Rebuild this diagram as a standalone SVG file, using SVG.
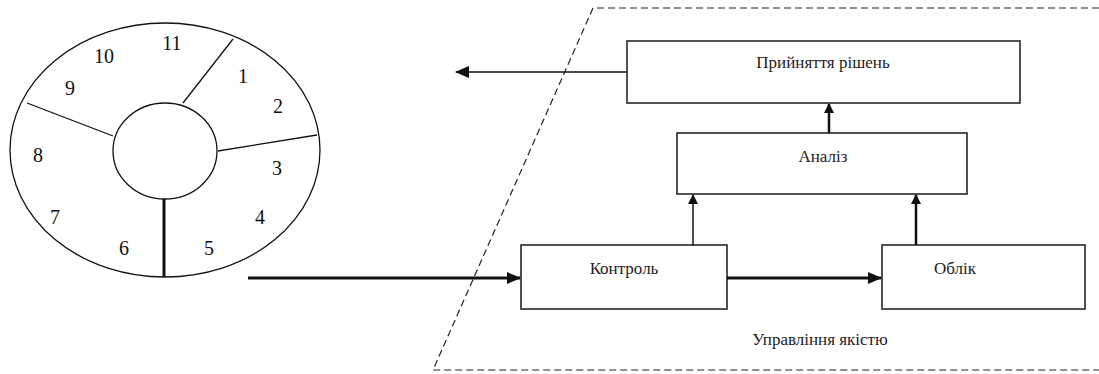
<svg xmlns="http://www.w3.org/2000/svg" width="1099" height="374" viewBox="0 0 1099 374">
<defs>
<style>
.ln{stroke:#111;fill:none;stroke-width:1.3}
.box{stroke:#333;fill:#fff;stroke-width:1.7}
.num{font-family:"Liberation Serif",serif;font-size:20px;fill:#111;text-anchor:middle}
.lbl{font-family:"Liberation Serif",serif;font-size:17px;fill:#222;text-anchor:middle}
.dash{stroke:#222;fill:none;stroke-width:1.2;stroke-dasharray:7 4}
</style>
<marker id="ah" markerWidth="10" markerHeight="10" refX="9" refY="5" orient="auto" markerUnits="userSpaceOnUse" viewBox="0 0 10 10">
<path d="M0,0 L10,5 L0,10 Z" fill="#111"/>
</marker>
<marker id="ahb" markerWidth="14" markerHeight="14" refX="13" refY="7" orient="auto" markerUnits="userSpaceOnUse" viewBox="0 0 14 14">
<path d="M0,1 L14,7 L0,13 Z" fill="#111"/>
</marker>
</defs>
<rect width="1099" height="374" fill="#fff"/>
<g id="cycle">
<ellipse cx="165" cy="150" rx="155" ry="127" class="ln"/>
<ellipse cx="165" cy="151" rx="52" ry="48" class="ln"/>
<line x1="183" y1="103" x2="233" y2="39" class="ln"/>
<line x1="218" y1="151" x2="317" y2="135" class="ln"/>
<line x1="113" y1="136" x2="27" y2="103" class="ln"/>
<line x1="164" y1="199" x2="164" y2="277" stroke="#111" stroke-width="3"/>
<text class="num" x="172" y="50">11</text>
<text class="num" x="104" y="63">10</text>
<text class="num" x="70" y="95">9</text>
<text class="num" x="243" y="83">1</text>
<text class="num" x="278" y="113">2</text>
<text class="num" x="38" y="162">8</text>
<text class="num" x="277" y="175">3</text>
<text class="num" x="55" y="224">7</text>
<text class="num" x="260" y="224">4</text>
<text class="num" x="124" y="255">6</text>
<text class="num" x="209" y="255">5</text>
</g>
<g id="quality-frame">
<polyline points="1099,8 593,8 433,370 1099,370" class="dash"/>
<text class="lbl" x="820" y="345">Управління якістю</text>
</g>
<g id="decisions">
<rect x="627" y="41" width="393" height="62" class="box"/>
<text class="lbl" x="823" y="68">Прийняття рішень</text>
</g>
<g id="analysis">
<rect x="677" y="133" width="290" height="61" class="box"/>
<text class="lbl" x="823" y="162">Аналіз</text>
</g>
<g id="control">
<rect x="521" y="245" width="206" height="64" class="box"/>
<text class="lbl" x="624" y="274">Контроль</text>
</g>
<g id="accounting">
<rect x="882" y="245" width="203" height="64" class="box"/>
<text class="lbl" x="955" y="274">Облік</text>
</g>
<g id="connectors">
<line x1="627" y1="72" x2="456" y2="72" stroke="#111" stroke-width="1.5" marker-end="url(#ahb)"/>
<line x1="829" y1="133" x2="829" y2="104" stroke="#111" stroke-width="2.5" marker-end="url(#ah)"/>
<line x1="693" y1="245" x2="693" y2="195" stroke="#111" stroke-width="1.5" marker-end="url(#ah)"/>
<line x1="916" y1="245" x2="916" y2="195" stroke="#111" stroke-width="2.5" marker-end="url(#ah)"/>
<line x1="248" y1="278" x2="520" y2="278" stroke="#111" stroke-width="3" marker-end="url(#ahb)"/>
<line x1="727" y1="278" x2="881" y2="278" stroke="#111" stroke-width="3" marker-end="url(#ahb)"/>
</g>
</svg>
